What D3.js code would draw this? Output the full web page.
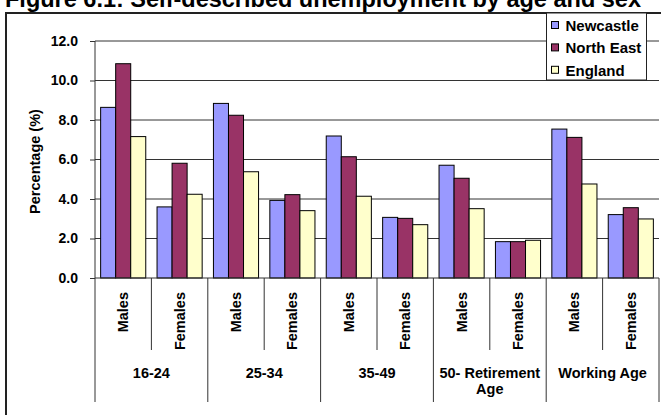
<!DOCTYPE html>
<html>
<head>
<meta charset="utf-8">
<script src="https://cdn.jsdelivr.net/npm/d3@7/dist/d3.min.js"></script>
<style>
  html, body { margin: 0; padding: 0; background: #fff; }
  svg { display: block; font-family: Arial, "Liberation Sans", sans-serif; }
</style>
</head>
<body>
<svg id="chart" width="661" height="415"></svg>
<script>
const titleText = "Figure 6.1: Self-described unemployment by age and sex";
const groups = ["16-24", "25-34", "35-49", "50- Retirement Age", "Working Age"];
const sexes = ["Males", "Females"];
const seriesNames = ["Newcastle", "North East", "England"];
const seriesColors = ["#9999FF", "#993366", "#FFFFCC"];
const newcastle = [8.64, 3.6, 8.84, 3.93, 7.19, 3.07, 5.71, 1.84, 7.54, 3.21];
const northEast = [10.85, 5.81, 8.24, 4.22, 6.14, 3.02, 5.05, 1.84, 7.12, 3.56];
const england   = [7.16, 4.24, 5.38, 3.41, 4.14, 2.70, 3.51, 1.91, 4.76, 2.99];
const yTicks = [0, 2, 4, 6, 8, 10, 12];
const yTitle = "Percentage (%)";

(function () {
const series = [newcastle, northEast, england];
const cats = [];
groups.forEach(g => sexes.forEach(s => cats.push(g + "|" + s)));

const svg = d3.select("#chart");

// outer border
svg.append("rect").attr("x", 6).attr("y", 13).attr("width", 700).attr("height", 450)
  .attr("fill", "none").attr("stroke", "#222").attr("stroke-width", 2);

// title (cut off at top as in reference)
svg.append("text").attr("x", 5).attr("y", 7)
  .attr("font-size", 23.5).attr("font-weight", "bold").attr("fill", "#000")
  .text(titleText);

const pLeft = 95, pRight = 659, pTop = 41, pBottom = 278;
const x = d3.scaleBand().domain(cats).range([pLeft, pRight]).padding(0);
const bw = x.bandwidth();
const xs = d3.scaleBand().domain(seriesNames).range([bw * 0.1, bw * 0.9]).padding(0);
const y = d3.scaleLinear().domain([0, 12]).range([pBottom, pTop]);

// gridlines
svg.append("g").selectAll("line").data(yTicks.filter(d => d > 0)).join("line")
  .attr("x1", pLeft).attr("x2", pRight)
  .attr("y1", d => y(d)).attr("y2", d => y(d))
  .attr("stroke", "#333").attr("stroke-width", 1);

// y axis
const yAxis = d3.axisLeft(y).tickValues(yTicks).tickFormat(d3.format(".1f")).tickSize(5).tickPadding(12);
const yg = svg.append("g").attr("transform", `translate(${pLeft},0)`).call(yAxis);
yg.select(".domain").remove();
yg.selectAll(".tick line").attr("stroke", "#333");
yg.selectAll(".tick text").attr("font-size", 14).attr("font-weight", "bold")
  .attr("font-family", "Arial, 'Liberation Sans', sans-serif").attr("fill", "#000");
svg.append("line").attr("x1", pLeft).attr("x2", pLeft).attr("y1", pTop).attr("y2", 402)
  .attr("stroke", "#333").attr("stroke-width", 1);

// y title
svg.append("text").attr("transform", `translate(40,161.5) rotate(-90)`)
  .attr("text-anchor", "middle").attr("font-size", 14.5).attr("font-weight", "bold")
  .text(yTitle);

// bars
const bars = svg.append("g");
series.forEach((vals, si) => {
  bars.append("g").selectAll("rect").data(vals).join("rect")
    .attr("x", (d, i) => x(cats[i]) + xs(seriesNames[si]))
    .attr("y", d => y(d))
    .attr("width", xs.bandwidth())
    .attr("height", d => y(0) - y(d))
    .attr("fill", seriesColors[si])
    .attr("stroke", "#000").attr("stroke-width", 1);
});

// x axis line
svg.append("line").attr("x1", pLeft).attr("x2", pRight).attr("y1", pBottom).attr("y2", pBottom)
  .attr("stroke", "#333").attr("stroke-width", 1);

// separators
const bounds = d3.range(1, cats.length + 1);
svg.append("g").selectAll("line").data(bounds).join("line")
  .attr("x1", i => i < cats.length ? x(cats[i]) : pRight)
  .attr("x2", i => i < cats.length ? x(cats[i]) : pRight)
  .attr("y1", pBottom)
  .attr("y2", i => i % 2 === 0 ? 402 : 350)
  .attr("stroke", "#333").attr("stroke-width", 1);

// sub labels
svg.append("g").selectAll("text").data(cats).join("text")
  .attr("transform", c => `translate(${x(c) + bw / 2 + 5},292) rotate(-90)`)
  .attr("text-anchor", "end").attr("font-size", 14.5).attr("font-weight", "bold")
  .text(c => c.split("|")[1]);

// group labels
const gl = svg.append("g");
groups.forEach((g) => {
  const cx = x(g + "|" + sexes[0]) + bw;
  const t = gl.append("text").attr("x", cx).attr("y", 378)
    .attr("text-anchor", "middle").attr("font-size", 14.5).attr("font-weight", "bold");
  if (g === "50- Retirement Age") {
    t.append("tspan").attr("x", cx).attr("y", 378).text("50- Retirement");
    t.append("tspan").attr("x", cx).attr("y", 394).text("Age");
  } else {
    t.text(g);
  }
});

// legend
const lg = svg.append("g");
lg.append("rect").attr("x", 546.5).attr("y", 13).attr("width", 100).attr("height", 67)
  .attr("fill", "#fff").attr("stroke", "#222").attr("stroke-width", 1);
seriesNames.forEach((n, i) => {
  const by = 31 + i * 22.4;
  lg.append("rect").attr("x", 551.5).attr("y", by - 9.5).attr("width", 7).attr("height", 7)
    .attr("fill", seriesColors[i]).attr("stroke", "#000").attr("stroke-width", 1);
  lg.append("text").attr("x", 565.5).attr("y", by).attr("font-size", 15)
    .attr("font-weight", "bold").text(n);
});
})();
</script>
</body>
</html>
